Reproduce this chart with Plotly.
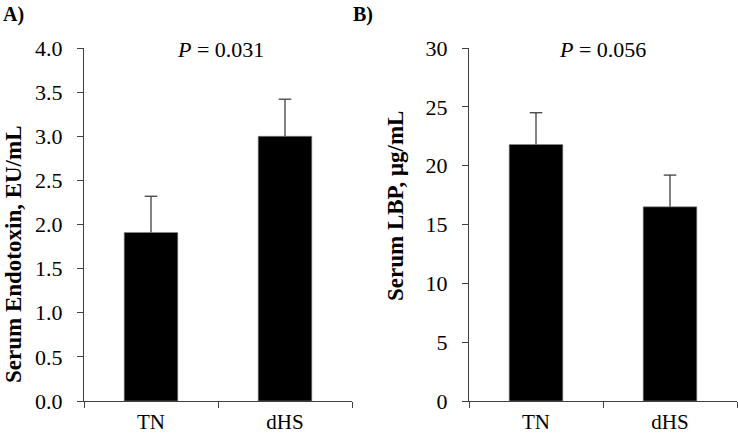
import plotly.graph_objects as go

categories = ["TN", "dHS"]
endotoxin = [1.91, 3.00]
endotoxin_err = [0.41, 0.42]
lbp = [21.8, 16.5]
lbp_err = [2.7, 2.7]
p_values = ["0.031", "0.056"]
panel_labels = ["A)", "B)"]
y_titles = ["Serum Endotoxin, EU/mL", "Serum LBP, μg/mL"]

FONT = "Liberation Serif, Times New Roman, serif"
AX = "#404040"
TICK_SIZE = 22

fig = go.Figure()
for i, (vals, errs) in enumerate([(endotoxin, endotoxin_err), (lbp, lbp_err)]):
    sfx = "" if i == 0 else "2"
    fig.add_trace(go.Bar(
        x=categories, y=vals,
        xaxis="x" + sfx, yaxis="y" + sfx,
        width=0.4,
        marker=dict(color="black", line=dict(color="#8a8a8a", width=0.6)),
        showlegend=False, hoverinfo="x+y",
    ))
    # upper error whiskers
    ex, ey = [], []
    for c, v, e in zip(categories, vals, errs):
        ex += [c, c, None]
        ey += [v, v + e, None]
    fig.add_trace(go.Scatter(
        x=ex, y=ey, mode="lines", xaxis="x" + sfx, yaxis="y" + sfx,
        line=dict(color=AX, width=1.3), showlegend=False, hoverinfo="skip",
    ))
    fig.add_trace(go.Scatter(
        x=categories, y=[v + e for v, e in zip(vals, errs)], mode="markers",
        xaxis="x" + sfx, yaxis="y" + sfx,
        marker=dict(symbol="line-ew", size=9, line=dict(color=AX, width=1.3)),
        showlegend=False, hoverinfo="skip",
    ))

ydom = [34 / 435, 387 / 435]
common_x = dict(type="category", showline=True, linecolor=AX, linewidth=1,
                ticks="outside", tickson="boundaries", ticklen=6, tickcolor=AX,
                ticklabelstandoff=2, automargin=False,
                tickfont=dict(family=FONT, size=21, color="black"),
                showgrid=False, zeroline=False)
common_y = dict(showline=True, linecolor=AX, linewidth=1, ticks="outside",
                ticklen=6, tickcolor=AX, showgrid=False, zeroline=False,
                ticklabelstandoff=10, automargin=False,
                tickfont=dict(family=FONT, size=TICK_SIZE, color="black"))

fig.update_layout(
    template="none",
    width=738, height=435,
    margin=dict(l=0, r=0, t=0, b=0, autoexpand=False),
    paper_bgcolor="white", plot_bgcolor="white",
    xaxis=dict(domain=[84 / 738, 352 / 738], anchor="y", **common_x),
    xaxis2=dict(domain=[469 / 738, 737 / 738], anchor="y2", **common_x),
    yaxis=dict(domain=ydom, anchor="x", range=[0, 4.0], dtick=0.5, tickformat=".1f",
               **common_y),
    yaxis2=dict(domain=ydom, anchor="x2", range=[0, 30], dtick=5, **common_y),
)

# y-axis titles
title_x = [13, 395]
title_y = [254, 206]
for i in range(2):
    fig.add_annotation(
        text="<b>" + y_titles[i] + "</b>", textangle=-90,
        x=title_x[i] / 738, y=(435 - title_y[i]) / 435,
        xref="paper", yref="paper",
        showarrow=False, xanchor="center", yanchor="middle",
        font=dict(family=FONT, size=23, color="black"),
    )

# P-value annotations
p_x = [220, 602]
for i in range(2):
    fig.add_annotation(
        text="<i>P</i> = " + p_values[i],
        x=p_x[i] / 738, y=(435 - 49) / 435, xref="paper", yref="paper",
        showarrow=False, xanchor="center", yanchor="middle",
        font=dict(family=FONT, size=22, color="black"),
    )

# Panel labels
lab_x = [1, 351]
for i in range(2):
    fig.add_annotation(
        text="<b>" + panel_labels[i] + "</b>",
        x=lab_x[i] / 738, y=(435 - 14) / 435, xref="paper", yref="paper",
        showarrow=False, xanchor="left", yanchor="middle",
        font=dict(family=FONT, size=20, color="black"),
    )

fig.write_html(
    "out.html",
    config={"displayModeBar": False},
    post_script="document.body.style.margin='0';document.body.style.overflow='hidden';",
)
